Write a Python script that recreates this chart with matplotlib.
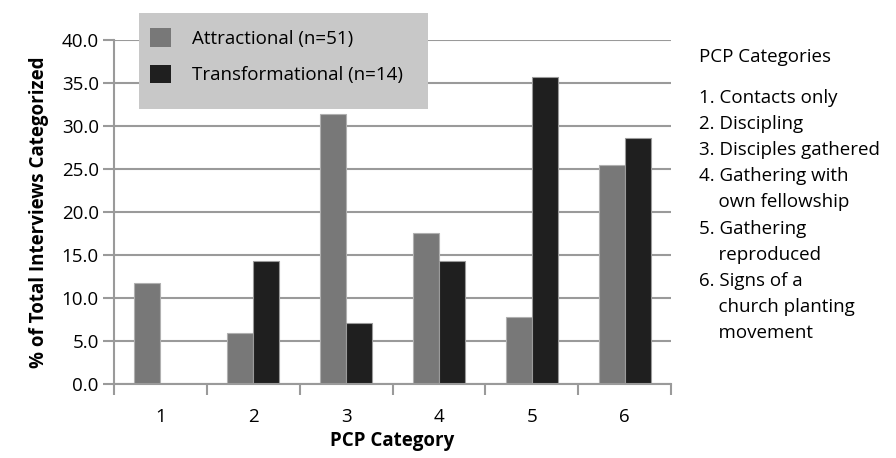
# Porcentaje de entrevistas por categoría PCP, atraccional vs transformacional

import matplotlib.pyplot as plt
from matplotlib.patches import Rectangle
import numpy as np

categorias = ["1", "2", "3", "4", "5", "6"]
atraccional = [11.8, 5.9, 31.4, 17.6, 7.8, 25.5]
transformacional = [0.0, 14.3, 7.1, 14.3, 35.7, 28.6]
serie_nombres = ["Attractional (n=51)", "Transformational (n=14)"]
lista_titulo = "PCP Categories"
lista_items = [
    "1. Contacts only",
    "2. Discipling",
    "3. Disciples gathered",
    "4. Gathering with\n    own fellowship",
    "5. Gathering\n    reproduced",
    "6. Signs of a\n    church planting\n    movement",
]

plt.rcParams['font.family'] = ['Open Sans', 'DejaVu Sans']
gris_eje = "#9a9a9a"
fs = 13.5

fig = plt.figure(figsize=(8.96, 4.58), dpi=100)
ax = fig.add_axes([114 / 896, 1 - 384 / 458, (671 - 114) / 896, (384 - 40) / 458])

x = np.arange(1, len(categorias) + 1)
ancho = 0.28
b1 = ax.bar(x - ancho / 2, atraccional, ancho, color="#787878", edgecolor="#b0b0b0",
            linewidth=0.8, zorder=3, label=serie_nombres[0])
b2 = ax.bar(x + ancho / 2, transformacional, ancho, color="#1f1f1f", edgecolor="#9a9a9a",
            linewidth=0.8, zorder=3, label=serie_nombres[1])

ax.set_xlim(0.5, len(categorias) + 0.5)
ax.set_ylim(0, 40)
ax.set_yticks(np.arange(0, 41, 5))
ax.set_yticklabels([f"{v:.1f}" for v in np.arange(0, 41, 5)], fontsize=fs)
ax.set_xticks(x)
ax.set_xticklabels(categorias, fontsize=fs)
ax.set_xticks(np.arange(0.5, len(categorias) + 1, 1), minor=True)
ax.tick_params(axis="x", which="major", length=0, pad=17)
ax.tick_params(axis="x", which="minor", length=8, width=1.5, color=gris_eje)
ax.tick_params(axis="y", length=8, width=1.5, color=gris_eje, pad=3)
ax.yaxis.grid(True, color=gris_eje, linewidth=1.5, zorder=0)
for s in ["top", "right"]:
    ax.spines[s].set_visible(False)
for s in ["left", "bottom"]:
    ax.spines[s].set_color(gris_eje)
    ax.spines[s].set_linewidth(1.5)
ax.spines["bottom"].set_zorder(4)

ax.set_xlabel("PCP Category", fontsize=fs, fontweight="bold", labelpad=4)
ax.set_ylabel("% of Total Interviews Categorized", fontsize=fs, fontweight="bold", labelpad=9)

# fondo gris de la leyenda
fig.patches.append(Rectangle((139 / 896, 1 - 109 / 458), (428 - 139) / 896, 96 / 458,
                             transform=fig.transFigure, facecolor="#c8c8c8",
                             edgecolor="none", zorder=5))
leg = fig.legend(handles=[b1, b2], loc="upper left", bbox_to_anchor=(150 / 896, 1 - 28 / 458),
                 frameon=False, fontsize=fs, handlelength=1.1, handleheight=1.15,
                 handletextpad=1.15, borderpad=0, labelspacing=0.9, borderaxespad=0)
leg.set_zorder(6)
for h in leg.legend_handles:
    h.set_edgecolor("none")

fig.text(699 / 896, 1 - 57 / 458, lista_titulo, fontsize=fs, va="center")
fig.text(699 / 896, 1 - 89 / 458, "\n".join(lista_items), fontsize=fs, va="top",
         linespacing=1.58)

fig.savefig("out.png", dpi=100)
